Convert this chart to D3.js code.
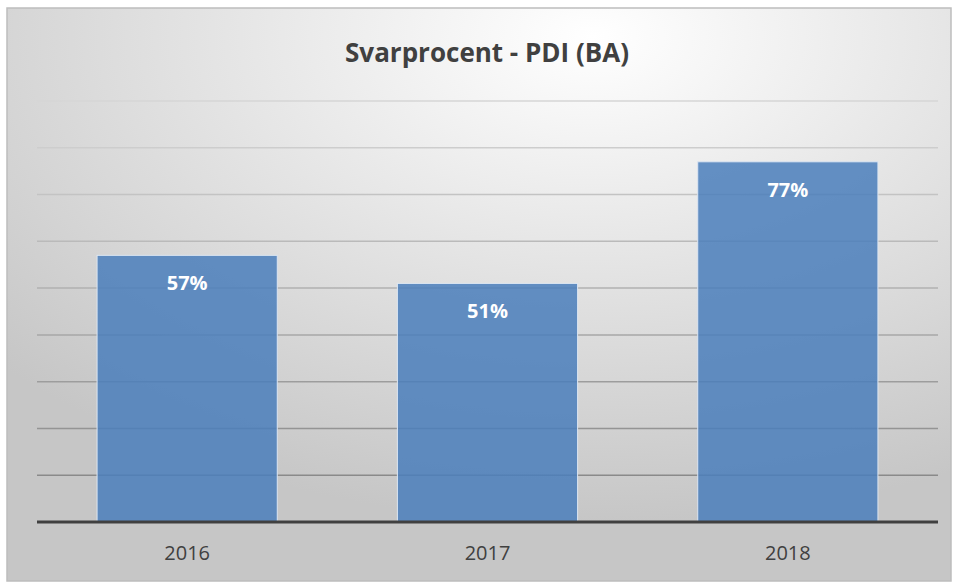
<!DOCTYPE html>
<html>
<head>
<meta charset="utf-8">
<script src="https://cdn.jsdelivr.net/npm/d3@7"></script>
<style>
  body { margin: 0; background: #fff; }
  svg { display: block; font-family: "Open Sans", Lato, sans-serif; }
</style>
</head>
<body>
<div id="chart"></div>
<script>
// data
const years = ["2016", "2017", "2018"]
const svarprocent = [0.57, 0.51, 0.77]
const yTicks = [0, 0.1, 0.2, 0.3, 0.4, 0.5, 0.6, 0.7, 0.8, 0.9]

const width = 953,
  height = 583

const svg = d3.select("#chart")
  .append("svg")
  .attr("width", width)
  .attr("height", height)

// background gradient, light at the top, grey at the edges
const defs = svg.append("defs")
const bg = defs.append("radialGradient")
  .attr("id", "bg")
  .attr("cx", "62%").attr("cy", "5%")
  .attr("r", "85%")
bg.append("stop").attr("offset", "0%").attr("stop-color", "#ffffff")
bg.append("stop").attr("offset", "100%").attr("stop-color", "#c6c6c6")

svg.append("rect")
  .attr("x", 7).attr("y", 8)
  .attr("width", width - 9).attr("height", height - 10)
  .attr("fill", "url(#bg)")
  .attr("stroke", "#bdbdbd")
  .attr("stroke-width", 1.5)

// scales
const x = d3.scaleBand()
  .domain(years)
  .range([37, 938])
  .paddingInner(0.4)
  .paddingOuter(0.2)

const y = d3.scaleLinear()
  .domain([0, 0.9])
  .range([522, 101])

// gridlines, darker towards the bottom
const gridColor = d3.scaleLinear()
  .domain([0.9, 0.1])
  .range(["#d6d6d6", "#8a8a8a"])

svg.append("g")
  .selectAll("line")
  .data(yTicks.filter(d => d > 0))
  .join("line")
  .attr("x1", 37).attr("x2", 938)
  .attr("y1", d => y(d)).attr("y2", d => y(d))
  .attr("stroke", d => gridColor(d))
  .attr("stroke-width", 1.5)

// bars
svg.append("g")
  .selectAll("rect")
  .data(svarprocent)
  .join("rect")
  .attr("x", (d, i) => x(years[i]))
  .attr("y", d => y(d))
  .attr("width", x.bandwidth())
  .attr("height", d => y(0) - y(d))
  .attr("fill", "#4a7ebb")
  .attr("fill-opacity", 0.85)
  .attr("stroke", "#dce6f2")
  .attr("stroke-width", 1)

// baseline
svg.append("line")
  .attr("x1", 37).attr("x2", 938)
  .attr("y1", y(0)).attr("y2", y(0))
  .attr("stroke", "#404040")
  .attr("stroke-width", 3)

// value labels
svg.append("g")
  .selectAll("text")
  .data(svarprocent)
  .join("text")
  .attr("x", (d, i) => x(years[i]) + x.bandwidth() / 2)
  .attr("y", d => y(d) + 35)
  .attr("text-anchor", "middle")
  .attr("fill", "#fff")
  .attr("font-size", "20px")
  .attr("font-weight", "bold")
  .text(d => Math.round(d * 100) + "%")

// x axis labels
const xAxis = d3.axisBottom(x).tickSize(0).tickPadding(0)
const gx = svg.append("g")
  .attr("transform", `translate(0,${y(0)})`)
  .call(xAxis)
gx.select(".domain").remove()
gx.selectAll("text")
  .attr("dy", "0")
  .attr("y", 38)
  .attr("fill", "#404040")
  .attr("font-size", "20px")
  .attr("font-family", "\"Open Sans\", Lato, sans-serif")

// title
svg.append("text")
  .attr("x", 487)
  .attr("y", 62)
  .attr("text-anchor", "middle")
  .attr("fill", "#404040")
  .attr("font-size", "26px")
  .attr("font-weight", "bold")
  .text("Svarprocent - PDI (BA)")
</script>
</body>
</html>
